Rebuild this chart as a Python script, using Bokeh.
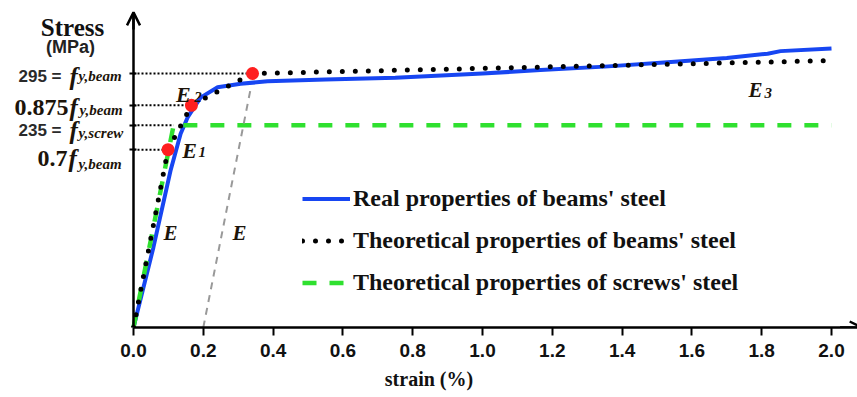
from bokeh.plotting import figure
from bokeh.models import (Range1d, FixedTicker, Label, Arrow, OpenHead, Legend,
                          LegendItem, NumeralTickFormatter)
from bokeh.embed import file_html
from bokeh.resources import INLINE

# ---------------- data ----------------
strain_real = [0.0, 0.057, 0.106, 0.135, 0.155, 0.192, 0.241, 0.307, 0.384,
               0.55, 0.75, 1.0, 1.166, 1.35, 1.53, 1.70, 1.817, 1.854, 2.0]
stress_real = [0.0, 93.0, 182.0, 225.0, 244.0, 267.0, 279.0, 283.0, 286.0,
               288.0, 290.0, 295.0, 299.0, 303.0, 308.0, 313.0, 318.0, 321.0, 324.0]

strain_theo = [0.0, 0.099, 0.166, 0.341, 2.0]
stress_theo = [0.0, 206.5, 258.1, 295.0, 310.0]

strain_screw = [0.0, 0.115, 2.0]
stress_screw = [0.0, 235.0, 235.0]

strain_offset = [0.2, 0.335]
stress_offset = [0.0, 276.0]

key_stress = [295.0, 258.1, 235.0, 206.5]
key_strain = [0.341, 0.166, 0.115, 0.099]

red_strain = [0.099, 0.166, 0.341]
red_stress = [206.5, 258.1, 295.0]

x_ticks = [0.0, 0.2, 0.4, 0.6, 0.8, 1.0, 1.2, 1.4, 1.6, 1.8, 2.0]
x_tick_labels = ["0.0", "0.2", "0.4", "0.6", "0.8", "1.0", "1.2", "1.4", "1.6", "1.8", "2.0"]

X_MIN, X_MAX = -0.3811, 2.0745
Y_AXIS_TOP = 366.0
Y_MAX = 379.8

SERIF = "Liberation Serif"
SANS = "Liberation Sans"
INK = "#1c140a"

p = figure(width=857, height=397, output_backend="svg", toolbar_location=None,
           x_range=Range1d(X_MIN, X_MAX), y_range=Range1d(0, Y_MAX),
           min_border_left=0, min_border_right=0, min_border_top=0,
           min_border_bottom=70)
p.outline_line_color = None
p.xgrid.visible = False
p.ygrid.visible = False
p.background_fill_color = "white"
p.border_fill_color = "white"

# x axis
xa = p.xaxis[0]
xa.bounds = (0, X_MAX)
xa.ticker = FixedTicker(ticks=x_ticks)
xa.formatter = NumeralTickFormatter(format="0.0")
xa.major_label_overrides = {t: l for t, l in zip(x_ticks, x_tick_labels)}
xa.minor_tick_line_color = None
xa.major_tick_in = 0
xa.major_tick_out = 8
xa.major_tick_line_width = 2
xa.axis_line_width = 2.5
xa.axis_line_color = "black"
xa.major_label_standoff = 8
xa.major_label_text_font = "Liberation Sans Narrow, Arial Narrow, Liberation Sans"
xa.major_label_text_font_style = "bold"
xa.major_label_text_font_size = "19px"
xa.major_label_text_color = "#111111"
xa.axis_label = "strain (%)"
xa.axis_label_text_font = SERIF
xa.axis_label_text_font_style = "bold"
xa.axis_label_text_font_size = "20px"
xa.axis_label_standoff = 8
xa.axis_label_text_color = "#111111"

# y axis at strain = 0
ya = p.yaxis[0]
ya.fixed_location = 0
ya.bounds = (0, Y_AXIS_TOP)
ya.ticker = FixedTicker(ticks=key_stress)
ya.minor_tick_line_color = None
ya.major_tick_in = 3
ya.major_tick_out = 4
ya.major_tick_line_width = 2
ya.axis_line_width = 2.5
ya.axis_line_color = "black"
ya.major_label_text_color = None
ya.major_label_text_font_size = "1px"

# axis arrows
p.add_layout(Arrow(end=OpenHead(size=13, line_width=2.5, line_color="black"),
                   x_start=0, y_start=Y_AXIS_TOP - 20, x_end=0, y_end=Y_AXIS_TOP,
                   line_width=2.5, line_color="black"))
p.add_layout(Arrow(end=OpenHead(size=12, line_width=2.5, line_color="black"),
                   x_start=X_MAX - 0.05, y_start=0, x_end=X_MAX + 0.012, y_end=0,
                   line_width=2.5, line_color="black"))

# leader lines from the axis to key points
p.segment(x0=[0.0] * len(key_stress), y0=key_stress, x1=key_strain, y1=key_stress,
          line_color="black", line_width=2, line_dash="2 2")

# curves
r_real = p.line(strain_real, stress_real, line_color="#1746f2", line_width=4,
                line_join="round")
r_screw = p.line(strain_screw, stress_screw, line_color="#2fe02f", line_width=4.5,
                 line_dash="14 13")
r_theo = p.line(strain_theo, stress_theo, line_color="black", line_width=5,
                line_dash="0 13", line_cap="round")
p.line(strain_offset, stress_offset, line_color="#999999", line_width=2,
       line_dash="7 6")

p.scatter(red_strain, red_stress, size=13, fill_color="#ff1f1f", line_color=None)

# legend
legend = Legend(items=[LegendItem(label="Real properties of beams' steel", renderers=[r_real]),
                       LegendItem(label="Theoretical properties of beams' steel", renderers=[r_theo]),
                       LegendItem(label="Theoretical properties of screws' steel", renderers=[r_screw])],
                location=(302, 31), orientation="vertical", glyph_width=48,
                glyph_height=27, label_height=27, spacing=15, padding=0, margin=0,
                label_standoff=3, border_line_color=None, background_fill_alpha=0,
                label_text_font=SERIF, label_text_font_style="bold",
                label_text_font_size="24px", label_text_color="#111111")
p.add_layout(legend)


def lab(text, x, y, xo, yo, font, style, size, align="left", color=INK):
    p.add_layout(Label(x=x, y=y, x_offset=xo, y_offset=yo, text=text,
                       text_font=font, text_font_style=style, text_font_size=size,
                       text_align=align, text_baseline="alphabetic",
                       text_color=color))


# axis title
lab("Stress", 0, Y_AXIS_TOP, -61, -15, SERIF, "bold", "25px", "center", "#111111")
lab("(MPa)", 0, Y_AXIS_TOP, -63, -35, SANS, "bold", "18px", "center", "#222222")

# y key labels
lab("295 =", 0, key_stress[0], -72, -3, SANS, "bold", "17px", "right", "#2a2a2a")
lab("f", 0, key_stress[0], -64, -3, SERIF, "bold italic", "25px")
lab("y,beam", 0, key_stress[0], -55, -2, SERIF, "bold italic", "15px")

lab("0.875", 0, key_stress[1], -65, -2, SERIF, "bold", "24px", "right")
lab("f", 0, key_stress[1], -64, -2, SERIF, "bold italic", "25px")
lab("y,beam", 0, key_stress[1], -54, -5, SERIF, "bold italic", "15px")

lab("235 =", 0, key_stress[2], -72, -5, SANS, "bold", "17px", "right", "#2a2a2a")
lab("f", 0, key_stress[2], -64, -5, SERIF, "bold italic", "25px")
lab("y,screw", 0, key_stress[2], -55, -8, SERIF, "bold italic", "15px")

lab("0.7", 0, key_stress[3], -66, -9, SERIF, "bold", "24px", "right")
lab("f", 0, key_stress[3], -65, -9, SERIF, "bold italic", "25px")
lab("y,beam", 0, key_stress[3], -55, -14, SERIF, "bold italic", "15px")

# modulus labels
lab("E", 0.122, 271.0, 0, 0, SERIF, "bold italic", "22px")
lab("2", 0.174, 268.0, 0, 0, SERIF, "bold italic", "15px")
lab("E", 0.140, 205.6, 0, 0, SERIF, "bold italic", "22px")
lab("1", 0.186, 203.3, 0, 0, SERIF, "bold italic", "15px")
lab("E", 0.086, 110.3, 0, 0, SERIF, "bold italic", "21px")
lab("E", 0.284, 110.3, 0, 0, SERIF, "bold italic", "21px")
lab("E", 1.762, 275.3, 0, 0, SERIF, "bold italic", "21px")
lab("3", 1.808, 271.8, 0, 0, SERIF, "bold italic", "15px")

open("out.html", "w").write(file_html(p, INLINE))
